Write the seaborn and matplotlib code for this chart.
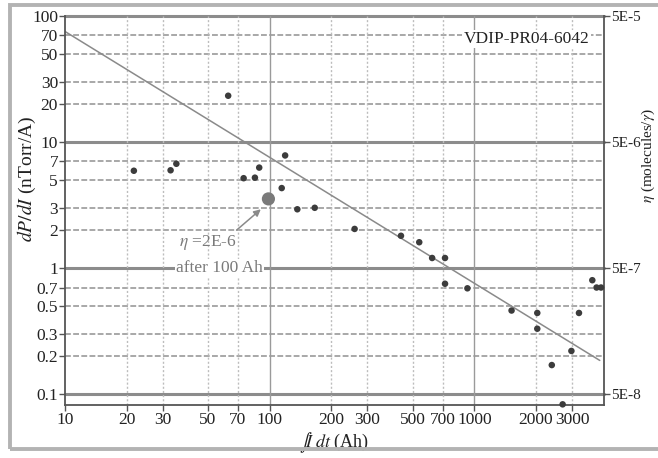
import matplotlib
matplotlib.use("Agg")
import matplotlib.pyplot as plt
import seaborn as sns
import pandas as pd
from matplotlib.patches import Rectangle

# data
dose_ah = [21.7, 32.8, 35, 62.7, 74.6, 84.7, 88.9, 119, 114.5, 136.5, 166, 260,
           438, 538, 622, 719, 719, 925, 1520, 2030, 2030, 2390, 2980, 3245,
           3770, 3955, 4160, 2700]
dpdi = [5.9, 5.95, 6.7, 23.2, 5.15, 5.2, 6.25, 7.8, 4.3, 2.92, 3.0, 2.04,
        1.8, 1.6, 1.2, 1.2, 0.75, 0.69, 0.46, 0.44, 0.33, 0.17, 0.22, 0.44,
        0.80, 0.70, 0.70, 0.083]
ref_x = [98.6]
ref_y = [3.53]
fit_x = [10, 4100]
fit_y = [75, 0.185]

x_ticks = [10, 20, 30, 50, 70, 100, 200, 300, 500, 700, 1000, 2000, 3000]
y_ticks = [0.1, 0.2, 0.3, 0.5, 0.7, 1, 2, 3, 5, 7, 10, 20, 30, 50, 70, 100]
y_labels = ["0.1", "0.2", "0.3", "0.5", "0.7", "1", "2", "3", "5", "7",
            "10", "20", "30", "50", "70", "100"]
eta_ticks = [5e-8, 5e-7, 5e-6, 5e-5]
eta_labels = ["5E-8", "5E-7", "5E-6", "5E-5"]

sns.set_style("white")
plt.rcParams["font.family"] = ["Liberation Serif", "DejaVu Serif"]
plt.rcParams["mathtext.fontset"] = "stix"

pts = pd.DataFrame({"x": dose_ah, "y": dpdi})
fit = pd.DataFrame({"x": fit_x, "y": fit_y})

fig = plt.figure(figsize=(6.58, 4.58), dpi=100)
ax = fig.add_axes([65 / 658, 1 - 405 / 458, 539 / 658, 389.3 / 458])
ax.set_xscale("log")
ax.set_yscale("log")
xlim = (10, 4300)
ylim = (0.082, 100)

# grid: decades heavy, the rest dashed / dotted
for v in y_ticks:
    if v in (0.1, 1, 10, 100):
        ax.axhline(v, color="#8c8c8c", lw=2.2, zorder=0, clip_on=False)
    else:
        ax.axhline(v, color="#a8a8a8", lw=1.4, ls=(0, (3, 1.2)), zorder=0)
for v in x_ticks[1:]:
    if v in (100, 1000):
        ax.axvline(v, color="#9a9a9a", lw=1.0, zorder=0)
    else:
        ax.axvline(v, color="#bdbdbd", lw=1.0, ls=(0, (1.5, 1.5)), zorder=0)

sns.lineplot(data=fit, x="x", y="y", ax=ax, color="#8a8a8a", lw=1.1, zorder=2)
sns.scatterplot(data=pts, x="x", y="y", ax=ax, color="#3c3c3c", s=22,
                edgecolor="none", zorder=3, clip_on=False)
ax.scatter(ref_x, ref_y, s=90, color="#7a7a7a", edgecolor="none", zorder=3)

ax.set_xlim(*xlim)
ax.set_ylim(*ylim)
ax.set_xticks(x_ticks, labels=[str(v) for v in x_ticks])
ax.set_yticks(y_ticks, labels=y_labels)
ax.minorticks_off()
ax.tick_params(axis="both", labelsize=12.5, length=4, width=1, pad=1,
               colors="#555555", labelcolor="#222222", direction="out")
ax.tick_params(axis="y", left=True)
ax.tick_params(axis="x", bottom=True)

for side in ("left", "bottom", "right"):
    ax.spines[side].set_color("#555555")
    ax.spines[side].set_linewidth(1.3)
ax.spines["top"].set_visible(False)

ax.set_xlabel(r"$\int\!I\ dt$ (Ah)", fontsize=13, color="#222222", labelpad=2)
ax.set_ylabel(r"$dP/dI$ (nTorr/A)", fontsize=14, color="#222222")
ax.yaxis.set_label_coords(-0.05, 0.58)

# right axis for eta
ax2 = ax.twinx()
ax2.set_yscale("log")
ax2.set_ylim(ylim[0] * 5e-7, ylim[1] * 5e-7)
ax2.set_yticks(eta_ticks, labels=eta_labels)
ax2.minorticks_off()
ax2.tick_params(axis="y", labelsize=11, length=4, width=1, pad=1,
                colors="#555555", labelcolor="#222222", right=True)
for s in ax2.spines.values():
    s.set_visible(False)
ax2.set_ylabel("")

ax.text(0.973, 0.94, "VDIP-PR04-6042", transform=ax.transAxes, ha="right",
        va="center", fontsize=12.5, color="#222222",
        bbox=dict(facecolor="white", edgecolor="none", pad=1))

ax.annotate(r"$\eta$ =2E-6", xy=(90.5, 2.92), xytext=(49.7, 1.58),
            ha="center", va="center", fontsize=12.5, color="#7a7a7a",
            arrowprops=dict(arrowstyle="-|>", color="#8a8a8a", lw=1.1,
                            mutation_scale=10, relpos=(0.9, 0.9),
                            shrinkA=0, shrinkB=0))
ax.text(56.8, 1.0, "after 100 Ah", ha="center", va="center", fontsize=12.5,
        color="#7a7a7a", bbox=dict(facecolor="white", edgecolor="none", pad=0.5))

fig.text(648 / 658, 0.66, r"$\eta$ (molecules/$\gamma$)", rotation=90,
         ha="center", va="center", fontsize=11, color="#222222")

fig.patches.append(Rectangle((10 / 658, 1 - 449 / 458), 1.2, (444 / 458),
                             transform=fig.transFigure, fill=False,
                             edgecolor="#b3b3b3", lw=2.8))

fig.savefig("out.png", dpi=100)
